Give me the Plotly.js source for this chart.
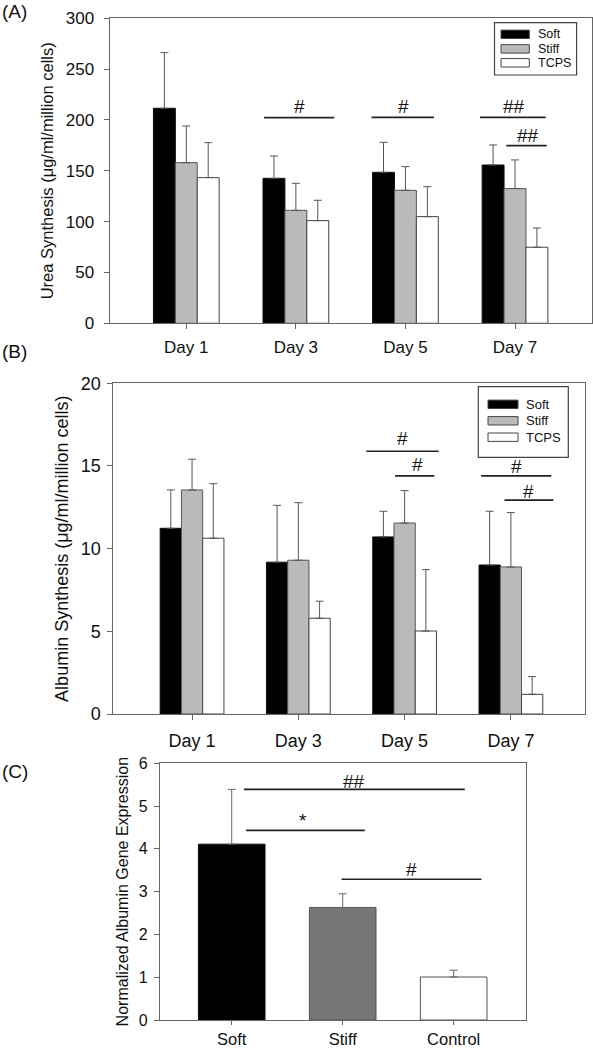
<!DOCTYPE html>
<html>
<head>
<meta charset="utf-8">
<script src="https://cdn.plot.ly/plotly-3.0.1.min.js"></script>
<style>html,body{margin:0;padding:0;background:#fff;}</style>
</head>
<body>
<div id="chart" style="width:593px;height:1050px;"></div>
<script>
// ---- Data ----
const days = ['Day 1', 'Day 3', 'Day 5', 'Day 7'];
const seriesNames = ['Soft', 'Stiff', 'TCPS'];

// (A) Urea synthesis (μg/ml/million cells)
const ureaSoft = [211.5, 142.6, 148.5, 155.7];
const ureaSoftErr = [54.7, 22.0, 29.5, 19.7];
const ureaStiff = [158.0, 111.1, 130.8, 132.5];
const ureaStiffErr = [36.1, 26.6, 23.3, 28.2];
const ureaTCPS = [143.3, 101.0, 104.9, 74.8];
const ureaTCPSErr = [34.4, 20.0, 29.5, 19.0];

// (B) Albumin synthesis (μg/ml/million cells)
const albSoft = [11.23, 9.18, 10.71, 9.01];
const albSoftErr = [2.32, 3.44, 1.55, 3.25];
const albStiff = [13.55, 9.30, 11.55, 8.89];
const albStiffErr = [1.86, 3.48, 1.96, 3.29];
const albTCPS = [10.63, 5.79, 5.02, 1.19];
const albTCPSErr = [3.30, 1.03, 3.71, 1.07];

// (C) Normalized albumin gene expression
const geneGroups = ['Soft', 'Stiff', 'Control'];
const geneValues = [4.11, 2.63, 1.005];
const geneErr = [1.28, 0.32, 0.16];

// Significance markers: [x start, x end, line level, label, label x, label y]
const sigA = [[0.71, 1.35, 202.3, '#', 1.03, 213], [1.69, 2.26, 202.6, '#', 1.98, 213],
              [2.68, 3.28, 202.6, '##', 2.99, 213], [2.92, 3.29, 174.8, '##', 3.12, 185]];
const sigB = [[1.64, 2.32, 15.89, '#', 1.98, 16.68], [1.91, 2.28, 14.4, '#', 2.12, 15.1],
              [2.72, 3.38, 14.4, '#', 3.05, 14.96], [2.94, 3.40, 12.94, '#', 3.17, 13.45]];
const sigC = [[0.11, 2.10, 5.39, '##', 1.10, 5.57], [0.13, 1.20, 4.43, '*', 0.64, 4.66],
              [0.99, 2.25, 3.29, '#', 1.62, 3.51]];

// ---- Styles ----
const W = 593, H = 1050;
const FONT = 'Liberation Sans, Arial, Helvetica, sans-serif';
const fills = {Soft: '#000000', Stiff: '#bababa', TCPS: '#ffffff'};
const outlines = {Soft: '#111111', Stiff: '#555555', TCPS: '#444444'};
const zeros4 = [0, 0, 0, 0];

function px(x) { return x / W; }
function py(y) { return 1 - y / H; }

function barTrace(name, y, err, xa, ya) {
  return {
    type: 'bar', name: name, x: days, y: y, xaxis: xa, yaxis: ya,
    marker: {color: fills[name], line: {color: outlines[name], width: 1}},
    error_y: {type: 'data', symmetric: false, array: err, arrayminus: zeros4,
              color: '#555555', thickness: 1, width: 4},
    showlegend: false, hoverinfo: 'x+y'
  };
}

const traces = [
  barTrace('Soft', ureaSoft, ureaSoftErr, 'x', 'y'),
  barTrace('Stiff', ureaStiff, ureaStiffErr, 'x', 'y'),
  barTrace('TCPS', ureaTCPS, ureaTCPSErr, 'x', 'y'),
  barTrace('Soft', albSoft, albSoftErr, 'x2', 'y2'),
  barTrace('Stiff', albStiff, albStiffErr, 'x2', 'y2'),
  barTrace('TCPS', albTCPS, albTCPSErr, 'x2', 'y2'),
  {
    type: 'bar', name: 'Albumin gene', x: geneGroups, y: geneValues, xaxis: 'x3', yaxis: 'y3',
    marker: {color: ['#000000', '#777777', '#ffffff'], line: {color: ['#111111', '#555555', '#555555'], width: 1}},
    error_y: {type: 'data', symmetric: false, array: geneErr, arrayminus: [0, 0, 0],
              color: '#666666', thickness: 1, width: 4},
    showlegend: false
  }
];

const shapes = [];
const annotations = [];

function addSig(list, xref, yref, fsize) {
  list.forEach(s => {
    shapes.push({type: 'line', xref: xref, yref: yref, x0: s[0], x1: s[1], y0: s[2], y1: s[2],
                 line: {color: '#222222', width: 1.7}});
    annotations.push({xref: xref, yref: yref, x: s[4], y: s[5], text: s[3], showarrow: false,
                      xanchor: 'center', yanchor: 'middle', font: {family: FONT, size: fsize, color: '#111'}});
  });
}
addSig(sigA, 'x', 'y', 19);
addSig(sigB, 'x2', 'y2', 19);
addSig(sigC, 'x3', 'y3', 19);

// Hand-drawn legends (wide swatches as in the original)
function addLegend(box, swX0, swX1, rows, textX, fsize) {
  shapes.push({type: 'rect', xref: 'paper', yref: 'paper', x0: px(box[0]), x1: px(box[1]),
               y0: py(box[2]), y1: py(box[3]), line: {color: '#444444', width: 1.2}, fillcolor: 'rgba(0,0,0,0)'});
  seriesNames.forEach((n, i) => {
    const c = rows[i];
    shapes.push({type: 'rect', xref: 'paper', yref: 'paper', x0: px(swX0), x1: px(swX1),
                 y0: py(c - 4.2), y1: py(c + 4.2), fillcolor: fills[n], line: {color: '#444444', width: 1}});
    annotations.push({xref: 'paper', yref: 'paper', x: px(textX), y: py(c), text: n, showarrow: false,
                      xanchor: 'left', yanchor: 'middle', font: {family: FONT, size: fsize, color: '#111'}});
  });
}
addLegend([494.5, 576.6, 22.7, 75.0], 501, 529.3, [34.3, 48.9, 62.8], 535.5, 12.5);
addLegend([478.3, 568.3, 386.7, 457.3], 488, 518, [404.3, 420.8, 437.2], 524, 13);

// Panel labels
[['(A)', 11.7], ['(B)', 351], ['(C)', 771]].forEach(p => {
  annotations.push({xref: 'paper', yref: 'paper', x: 0, y: py(p[1]), text: p[0], showarrow: false,
                    xanchor: 'left', yanchor: 'middle', font: {family: FONT, size: 19, color: '#111'}});
});

const axisCommon = {showline: true, mirror: true, linecolor: '#666666', linewidth: 1,
                    ticks: 'outside', ticklen: 5, tickwidth: 1, tickcolor: '#666666',
                    showgrid: false, zeroline: false, fixedrange: true};

const layout = {
  width: W, height: H, margin: {l: 0, r: 0, t: 0, b: 0},
  paper_bgcolor: '#ffffff', plot_bgcolor: '#ffffff',
  barmode: 'group', bargap: 0.4, bargroupgap: 0, showlegend: false,
  font: {family: FONT, color: '#111111'},
  xaxis: Object.assign({}, axisCommon, {domain: [px(109.6), px(591.7)], anchor: 'y', type: 'category',
         range: [-0.7, 3.7], tickfont: {size: 17}, ticklabelstandoff: 3}),
  yaxis: Object.assign({}, axisCommon, {domain: [py(323.3), py(18.3)], anchor: 'x', range: [0, 300], dtick: 50,
         tickfont: {size: 17}, ticklabelstandoff: 6,
         title: {text: 'Urea Synthesis (μg/ml/million cells)', font: {size: 16.5}, standoff: 8}}),
  xaxis2: Object.assign({}, axisCommon, {domain: [px(113.4), px(585.3)], anchor: 'y2', type: 'category',
         range: [-0.74, 3.70], tickfont: {size: 18}, ticklabelstandoff: 5}),
  yaxis2: Object.assign({}, axisCommon, {domain: [py(714), py(383.3)], anchor: 'x2', range: [0, 20], dtick: 5,
         tickfont: {size: 18}, ticklabelstandoff: 3,
         title: {text: 'Albumin Synthesis (μg/ml/million cells)', font: {size: 18}, standoff: 7}}),
  xaxis3: Object.assign({}, axisCommon, {domain: [px(159.9), px(525.5)], anchor: 'y3', type: 'category',
         range: [-0.647, 2.647], ticklen: 4, tickfont: {size: 16.5}, ticklabelstandoff: 0}),
  yaxis3: Object.assign({}, axisCommon, {domain: [py(1020), py(763.3)], anchor: 'x3', range: [0, 6], dtick: 1,
         tickfont: {size: 16}, ticklabelstandoff: 3,
         title: {text: 'Normalized Albumin Gene Expression', font: {size: 16}, standoff: 6}}),
  shapes: shapes,
  annotations: annotations
};

Plotly.newPlot('chart', traces, layout, {displayModeBar: false, staticPlot: true});
</script>
</body>
</html>
